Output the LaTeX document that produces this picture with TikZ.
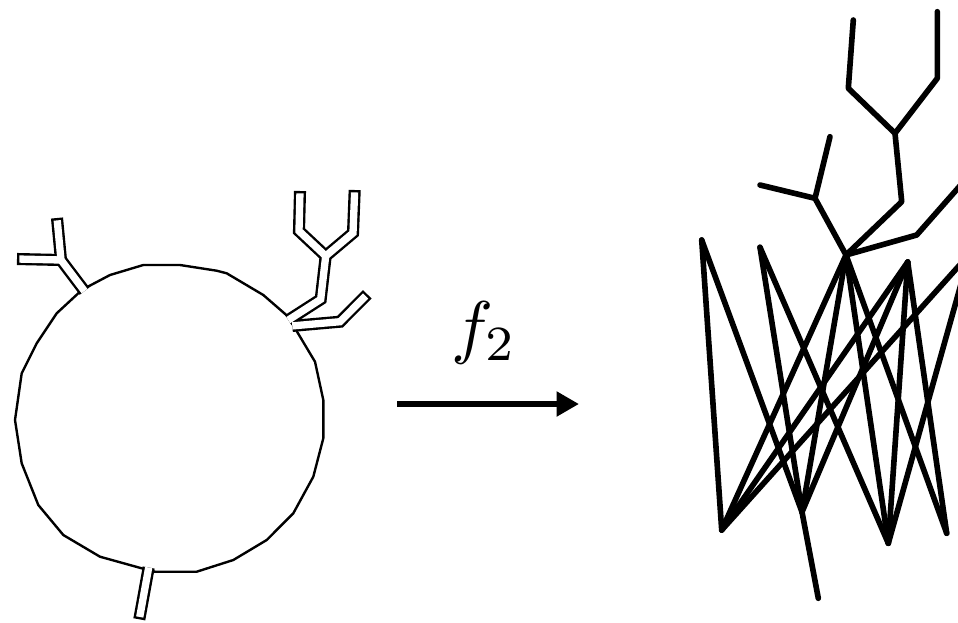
\documentclass[tikz,border=0pt]{standalone}
\usepackage{amsmath,amssymb}
\usepackage{xcolor}
\usepackage{tikz}
\usetikzlibrary{arrows.meta}

\begin{document}
\begin{tikzpicture}[x=0.25mm, y=-0.25mm, line width=1.4pt,
    ring/.style={black, line width=1.7pt},
    wire/.style={black, line width=4pt, line cap=round, line join=round}]
  \useasboundingbox (0,0) rectangle (958,622);
  \clip (0,0) rectangle (958,622);
  % the ring: a rough polygon
  \draw[ring] (143.3,265) -- (180,265) -- (216.7,270.7) -- (226.7,273.3)
    -- (263.3,295) -- (288.3,316.7) -- (295,328.3) -- (315,361.7) -- (323.3,400)
    -- (323.3,438.3) -- (313.3,476.7) -- (293.3,513.3) -- (266.7,540)
    -- (233.3,560) -- (196.7,571.7) -- (155,571.7) -- (141.7,568.3)
    -- (100,556.7) -- (63.3,535) -- (38.3,505) -- (21.7,463.3) -- (15,420)
    -- (21.7,373.3) -- (36.7,343.3) -- (56.7,313.3) -- (80,291.7)
    -- (86.7,287.3) -- (110,275) -- cycle;
  % the tubes on the ring: outline first, then the hollow
  \foreach \col/\wd/\cut in {black/8.6pt/0pt, white/5.2pt/1.7pt}{
    \draw[\col, line width=\wd, shorten >=\cut] (84.5,291.1) -- (61,260) -- (57,218);
    \draw[\col, line width=\wd, shorten >=\cut] (61,260) -- (17,259);
    \draw[\col, line width=\wd, shorten >=\cut] (288.3,320.1) -- (320.7,299.3)
      -- (325.7,256) -- (353,233) -- (354.7,190);
    \draw[\col, line width=\wd, shorten >=\cut] (325.7,256) -- (299,231) -- (300,191);
    \draw[\col, line width=\wd, shorten >=\cut] (292.3,325.9) -- (340,321.7)
      -- (367.3,294.3);
    \draw[\col, line width=\wd, shorten >=\cut] (148.7,567.5) -- (139.3,619.3);}
  % the map
  \coordinate (src) at (397,404);
  \coordinate (dst) at (579,404);
  \draw[line width=4.6pt, -{Triangle[length=16pt, width=17pt]}] (src) -- (dst);
  \node[anchor=base, scale=5, inner sep=0pt] (lbl) at (484,350) {$f_2$};
  % the image: zigzag and the tree on top
  \coordinate (A) at (701.7,240);
  \coordinate (B) at (760,247.3);
  \coordinate (H) at (846,255);
  \coordinate (C) at (907.7,262);
  \coordinate (R1) at (966,258);
  \coordinate (R2) at (961,284);
  \coordinate (E) at (721.7,530);
  \coordinate (F) at (802,512);
  \coordinate (G) at (888.3,543.3);
  \coordinate (I) at (946.7,533.3);
  \coordinate (J) at (818.3,598.3);
  \foreach \p/\q in {A/E, A/F, B/F, B/G, E/H, E/C, E/R1, F/H, F/C, F/J,
                     G/H, G/C, G/R2, I/H, I/C}{
    \draw[wire] (\p) -- (\q);}
  \coordinate (sy) at (815,198.3);
  \coordinate (uy) at (895,133.3);
  \draw[wire] (H) -- (sy) -- (830,136.7);
  \draw[wire] (sy) -- (760,185);
  \draw[wire] (H) -- (901.7,201.7) -- (uy) -- (848.3,88.3) -- (853.3,20);
  \draw[wire] (uy) -- (937.3,78.3) -- (937.3,11.7);
  \draw[wire] (H) -- (916.7,235) -- (966,179);
\end{tikzpicture}
\end{document}
